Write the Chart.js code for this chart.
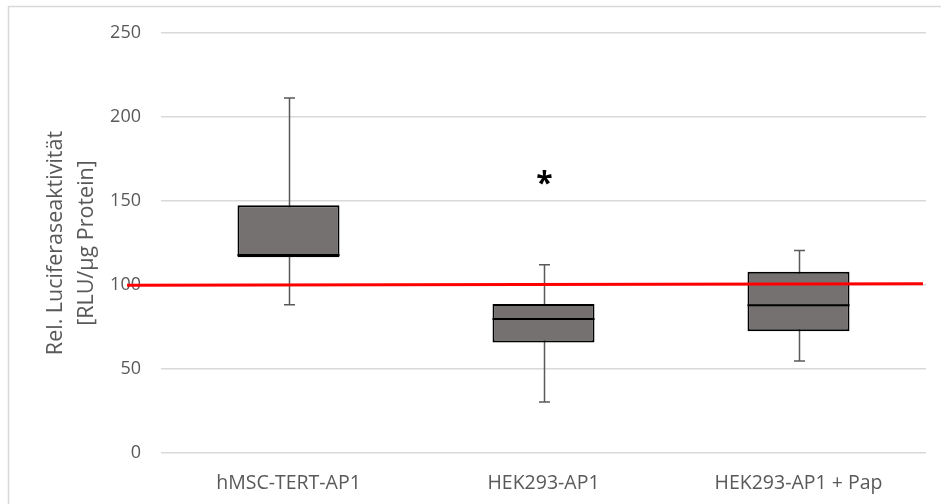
<!DOCTYPE html>
<html>
<head>
<meta charset="utf-8">
<script src="https://cdn.jsdelivr.net/npm/chart.js@4"></script>
<style>
  html, body { margin: 0; padding: 0; background: #fff; overflow: hidden; }
  #wrap { width: 941px; height: 504px; }
</style>
</head>
<body>
<div id="wrap"><canvas id="myChart" width="941" height="504"></canvas></div>
<script>
const labels = ['hMSC-TERT-AP1', 'HEK293-AP1', 'HEK293-AP1 + Pap'];
const whiskerMin = [88.3, 30.4, 54.8];
const q1 = [116.5, 65.8, 72.4];
const median = [117.8, 79.8, 87.9];
const q3 = [147.4, 88.7, 107.9];
const whiskerMax = [211.3, 112.1, 120.6];
const refLine = [99.8, 100.8]; // red reference line, left and right end
const marker = {index: 1, value: 163.3, text: '*'};
const yTicks = [0, 50, 100, 150, 200, 250];

const FONT = '"Open Sans", "Liberation Sans", sans-serif';
const BOX_FILL = '#767171';

const boxExtras = {
  id: 'boxExtras',
  beforeDraw(chart) {
    const ctx = chart.ctx;
    ctx.save();
    ctx.strokeStyle = '#d9d9d9';
    ctx.lineWidth = 1.5;
    ctx.strokeRect(8.5, 6.5, 1200, 1200);
    ctx.restore();
  },
  beforeDatasetsDraw(chart) {
    const {ctx, scales: {x, y}} = chart;
    ctx.save();
    ctx.strokeStyle = '#595959';
    ctx.lineWidth = 1.5;
    labels.forEach((l, i) => {
      const cx = Math.round(x.getPixelForValue(i)) + 0.5;
      const top = y.getPixelForValue(whiskerMax[i]);
      const bot = y.getPixelForValue(whiskerMin[i]);
      ctx.beginPath();
      ctx.moveTo(cx, top);
      ctx.lineTo(cx, bot);
      ctx.moveTo(cx - 5.5, top);
      ctx.lineTo(cx + 5.5, top);
      ctx.moveTo(cx - 5.5, bot);
      ctx.lineTo(cx + 5.5, bot);
      ctx.stroke();
    });
    ctx.restore();
  },
  afterDatasetsDraw(chart) {
    const {ctx, chartArea, scales: {x, y}} = chart;
    const meta = chart.getDatasetMeta(0);
    ctx.save();
    // median lines
    ctx.strokeStyle = '#000';
    ctx.lineWidth = 2;
    meta.data.forEach((bar, i) => {
      const my = y.getPixelForValue(median[i]);
      ctx.beginPath();
      ctx.moveTo(bar.x - bar.width / 2, my);
      ctx.lineTo(bar.x + bar.width / 2, my);
      ctx.stroke();
    });

    ctx.strokeStyle = '#ff0000';
    ctx.lineWidth = 3;
    ctx.beginPath();
    ctx.moveTo(chartArea.left - 34, y.getPixelForValue(refLine[0]));
    ctx.lineTo(chartArea.right - 3, y.getPixelForValue(refLine[1]));
    ctx.stroke();

    ctx.fillStyle = '#000';
    ctx.font = 'bold 30px ' + FONT;
    ctx.textAlign = 'center';
    ctx.textBaseline = 'middle';
    ctx.fillText(marker.text, x.getPixelForValue(marker.index) + 1, y.getPixelForValue(marker.value) + 6);
    ctx.restore();
  },
};

const data = {
  labels: labels,
  datasets: [{
    label: 'box',
    data: labels.map((l, i) => [q1[i], q3[i]]),
    backgroundColor: BOX_FILL,
    borderColor: '#000',
    borderWidth: 2,
    borderSkipped: false,
    categoryPercentage: 0.8,
    barPercentage: 0.5,
  }],
};

const config = {
  type: 'bar',
  data: data,
  options: {
    responsive: false,
    animation: false,
    layout: {padding: {top: 33, right: 15, left: 40, bottom: 0}},
    plugins: {
      legend: {display: false},
      tooltip: {enabled: false},
    },
    scales: {
      x: {
        grid: {display: false},
        border: {display: false},
        ticks: {color: '#595959', font: {family: FONT, size: 19.5}, padding: 11},
        afterFit(scale) { scale.height = 51; },
      },
      y: {
        min: 0,
        max: 250,
        afterBuildTicks(scale) { scale.ticks = yTicks.map(v => ({value: v})); },
        grid: {color: '#d9d9d9', lineWidth: 1.5, drawTicks: false},
        border: {display: false},
        ticks: {color: '#595959', font: {family: FONT, size: 18}, padding: 20},
        title: {
          display: true,
          text: ['Rel. Luciferaseaktivität', '[RLU/µg Protein]'],
          color: '#595959',
          font: {family: FONT, size: 21.5, lineHeight: 1.45},
          padding: 0,
        },
        afterFit(scale) { scale.width = 121; },
      },
    },
  },
  plugins: [boxExtras],
};

const myChart = new Chart(document.getElementById('myChart'), config);
</script>
</body>
</html>
